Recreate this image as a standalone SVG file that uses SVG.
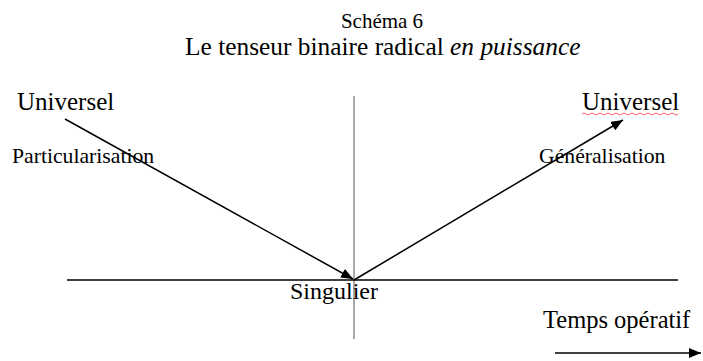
<svg xmlns="http://www.w3.org/2000/svg" width="703" height="361" viewBox="0 0 703 361">
<style>
text{font-family:"Liberation Serif","Times New Roman",serif;fill:#000}
.ln{stroke:#000;stroke-width:1.5;fill:none}
.ax{stroke:#555;stroke-width:1;fill:none}
</style>
<defs>
<marker id="ah" viewBox="0 0 12 10" refX="12" refY="5" markerWidth="12" markerHeight="10" markerUnits="userSpaceOnUse" orient="auto">
<path d="M0,0 L12,5 L0,10 Z" fill="#000"/>
</marker>
</defs>
<rect width="703" height="361" fill="#fff"/>
<g id="title">
<text x="382" y="28" font-size="21" text-anchor="middle">Schéma 6</text>
<text x="185" y="55" font-size="25.4">Le tenseur binaire radical <tspan font-style="italic">en puissance</tspan></text>
</g>
<g id="connectors">
<line class="ax" x1="354" y1="96" x2="354" y2="339"/>
<line class="ln" x1="67" y1="280" x2="678" y2="280"/>
<line class="ln" x1="65" y1="119" x2="353" y2="279" marker-end="url(#ah)"/>
<line class="ln" x1="354" y1="280" x2="623" y2="120" marker-end="url(#ah)"/>
<line class="ln" x1="555" y1="353" x2="701" y2="353" marker-end="url(#ah)"/>
</g>
<g id="universel-left">
<text x="17" y="110" font-size="25">Universel</text>
</g>
<g id="universel-right">
<text x="582" y="110" font-size="25">Universel</text>
<path d="M582,114 q2,-2 4,0 t4,0 t4,0 t4,0 t4,0 t4,0 t4,0 t4,0 t4,0 t4,0 t4,0 t4,0 t4,0 t4,0 t4,0 t4,0 t4,0 t4,0 t4,0 t4,0 t4,0 t4,0 t4,0 t4,0" stroke="#e33" stroke-width="0.8" fill="none"/>
</g>
<g id="particularisation">
<text x="12" y="163" font-size="21.7">Particularisation</text>
</g>
<g id="generalisation">
<text x="539" y="163" font-size="21.7">Généralisation</text>
</g>
<g id="singulier">
<text x="290" y="299" font-size="24">Singulier</text>
</g>
<g id="temps">
<text x="543" y="328" font-size="24.5">Temps opératif</text>
</g>
</svg>
